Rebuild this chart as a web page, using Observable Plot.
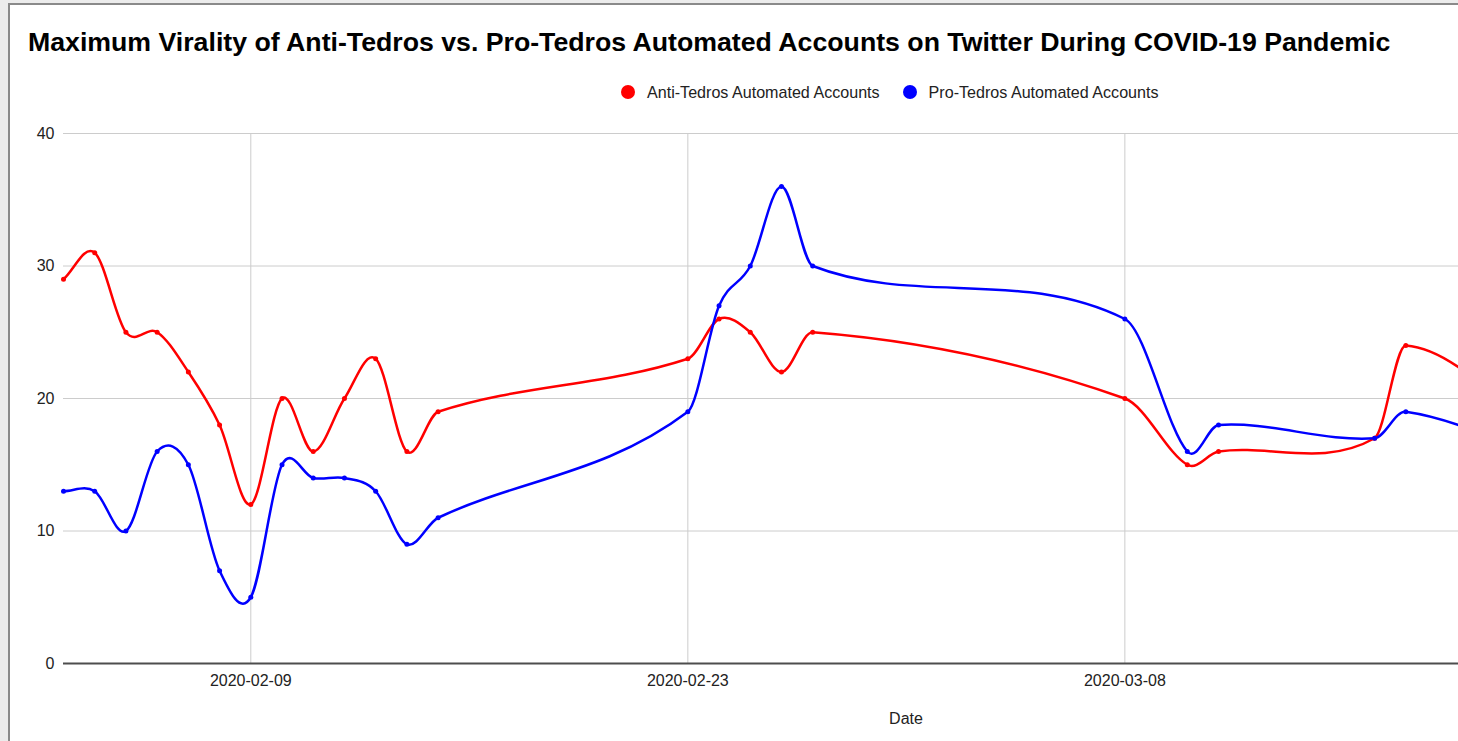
<!DOCTYPE html>
<html><head><meta charset="utf-8">
<script src="https://cdn.jsdelivr.net/npm/d3@7"></script>
<script src="https://cdn.jsdelivr.net/npm/@observablehq/plot@0.6"></script>
<style>
body{margin:0;width:1458px;height:741px;background:#ececec;overflow:hidden;font-family:"Liberation Sans",Arial,sans-serif;position:relative}
#panel{position:absolute;left:8px;top:3px;width:1460px;height:750px;background:#fff;border-left:2px solid #8a8a8a;border-top:2px solid #8a8a8a}
#title{position:absolute;left:28px;top:29px;font-size:26.7px;line-height:26.7px;font-weight:bold;color:#000;white-space:nowrap}
#legend{position:absolute;left:621px;top:84px;display:flex;align-items:center;font-size:16.1px;line-height:16px;color:#222;white-space:nowrap}
.sw{width:14px;height:14px;border-radius:50%;display:inline-block;margin-right:12px}
.item{display:flex;align-items:center;margin-right:23px}
#chart{position:absolute;left:0;top:110px}
#xlabel{position:absolute;left:906px;top:711px;transform:translateX(-50%);font-size:16px;line-height:16px;color:#222}
</style></head>
<body>
<div id="panel"></div>
<div id="title">Maximum Virality of Anti-Tedros vs. Pro-Tedros Automated Accounts on Twitter During COVID-19 Pandemic</div>
<div id="legend"></div>
<div id="chart"></div>
<div id="xlabel">Date</div>
<script>
const dates = ["2020-02-03","2020-02-04","2020-02-05","2020-02-06","2020-02-07","2020-02-08","2020-02-09","2020-02-10","2020-02-11","2020-02-12","2020-02-13","2020-02-14","2020-02-15","2020-02-23","2020-02-24","2020-02-25","2020-02-26","2020-02-27","2020-03-08","2020-03-10","2020-03-11","2020-03-16","2020-03-17","2020-03-22"];
const antiTedros = [29,31,25,25,22,18,12,20,16,20,23,16,19,23,26,25,22,25,20,15,16,17,24,16];
const proTedros  = [13,13,10,16,15,7,5,15,14,14,13,9,11,19,27,30,36,30,26,16,18,17,19,15];
const seriesNames = ["Anti-Tedros Automated Accounts","Pro-Tedros Automated Accounts"];
const seriesColors = ["#ff0000","#0000ff"];
const xTicks = ["2020-02-09","2020-02-23","2020-03-08"];
const yTicks = [0,10,20,30,40];

const rows = [];
dates.forEach((d,i)=>{
  rows.push({date:new Date(d), value:antiTedros[i], series:seriesNames[0]});
  rows.push({date:new Date(d), value:proTedros[i], series:seriesNames[1]});
});

// cubic Hermite spline with finite-difference tangents (smooth "function" curve)
function hermiteCurve(context) {
  let xs = [], ys = [];
  return {
    areaStart(){}, areaEnd(){},
    lineStart(){ xs = []; ys = []; },
    point(x, y){ xs.push(+x); ys.push(+y); },
    lineEnd(){
      const n = xs.length; if (!n) return;
      context.moveTo(xs[0], ys[0]);
      if (n === 1) return;
      const m = new Array(n);
      for (let i = 0; i < n; i++) {
        if (i === 0) m[i] = (ys[1]-ys[0])/(xs[1]-xs[0]);
        else if (i === n-1) m[i] = (ys[n-1]-ys[n-2])/(xs[n-1]-xs[n-2]);
        else m[i] = (ys[i+1]-ys[i-1])/(xs[i+1]-xs[i-1]);
      }
      for (let i = 0; i < n-1; i++) {
        const h = (xs[i+1]-xs[i])/3;
        context.bezierCurveTo(xs[i]+h, ys[i]+m[i]*h, xs[i+1]-h, ys[i+1]-m[i+1]*h, xs[i+1], ys[i+1]);
      }
    }
  };
}

const legend = document.getElementById("legend");
seriesNames.forEach((n,i)=>{
  const it = document.createElement("span"); it.className="item";
  const sw = document.createElement("span"); sw.className="sw"; sw.style.background=seriesColors[i];
  it.appendChild(sw); it.appendChild(document.createTextNode(n));
  legend.appendChild(it);
});

const fmt = d3.utcFormat("%Y-%m-%d");
const plot = Plot.plot({
  width: 1458,
  height: 600,
  marginTop: 23,
  marginBottom: 47,
  marginLeft: 63,
  marginRight: 0,
  style: {fontSize:"16px", fontFamily:'"Liberation Sans", Arial, sans-serif', color:"#222", background:"transparent", overflow:"hidden"},
  x: {type:"utc", domain:[new Date("2020-02-03"), new Date("2020-03-18T16:30:00Z")]},
  y: {domain:[0,40]},
  color: {domain: seriesNames, range: seriesColors},
  marks: [
    Plot.gridY(yTicks.filter(v=>v>0), {stroke:"#cccccc", strokeOpacity:1, strokeWidth:1}),
    Plot.gridX(xTicks.map(d=>new Date(d)), {stroke:"#cccccc", strokeOpacity:1, strokeWidth:1}),
    Plot.axisY(yTicks, {tickSize:0, tickPadding:9, label:null}),
    Plot.axisX(xTicks.map(d=>new Date(d)), {tickSize:0, tickPadding:11, tickFormat:fmt, label:null}),
    Plot.ruleY([0], {stroke:"#4d4d4d", strokeWidth:2}),
    Plot.line(rows, {x:"date", y:"value", z:"series", stroke:"series", strokeWidth:2.5, curve:hermiteCurve}),
    Plot.dot(rows, {x:"date", y:"value", fill:"series", r:2.5})
  ]
});
document.getElementById("chart").appendChild(plot);
</script>
</body></html>
